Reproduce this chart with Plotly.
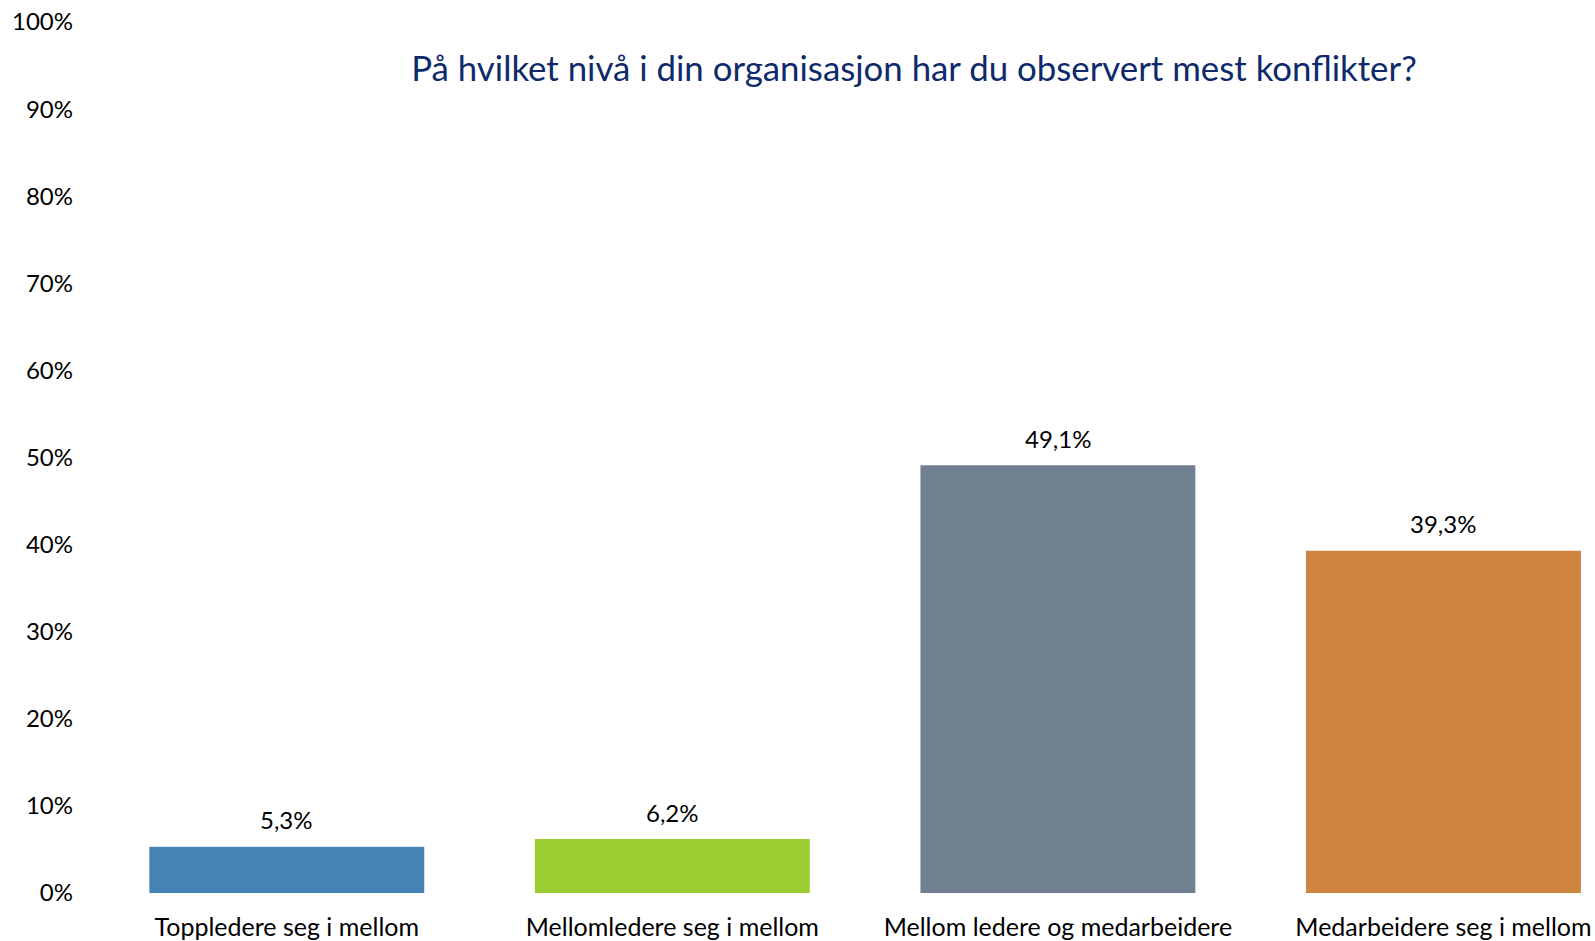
import plotly.graph_objects as go

categories = ["Toppledere seg i mellom", "Mellomledere seg i mellom",
              "Mellom ledere og medarbeidere", "Medarbeidere seg i mellom"]
values = [5.3, 6.2, 49.1, 39.3]
value_labels = ["5,3%", "6,2%", "49,1%", "39,3%"]
colors = ["#4682B4", "#9ACD32", "#708090", "#CD853F"]
tick_vals = [0, 10, 20, 30, 40, 50, 60, 70, 80, 90, 100]
tick_text = [f"{v}%" for v in tick_vals]
title_text = "På hvilket nivå i din organisasjon har du observert mest konflikter?"

FONT = "Lato"

fig = go.Figure()
fig.add_trace(go.Bar(
    x=categories, y=values, marker_color=colors, marker_line_width=0,
    hoverinfo="skip",
))

for c, v, t in zip(categories, values, value_labels):
    fig.add_annotation(x=c, y=v, text=t, showarrow=False, xref="x", yref="y",
                       yanchor="middle", yshift=27,
                       font=dict(family=FONT, size=24, color="#000000"))

fig.update_layout(
    width=1595, height=941,
    margin=dict(l=94, r=0, t=22, b=48, autoexpand=False),
    paper_bgcolor="white", plot_bgcolor="white",
    bargap=0.287,
    showlegend=False,
    title=dict(text=title_text, x=914 / 1595, xanchor="center",
               y=1 - 69 / 941, yanchor="middle", xref="container", yref="container",
               font=dict(family=FONT, size=34.8, color="#0E2A6A")),
    xaxis=dict(range=[-0.5, 3.393], showline=False, showgrid=False, ticks="",
               automargin=False,
               tickfont=dict(family=FONT, size=25, color="#000000"),
               ticklabelstandoff=17),
    yaxis=dict(range=[0, 100], tickvals=tick_vals, ticktext=tick_text,
               showgrid=False, showline=False, zeroline=False, ticks="",
               automargin=False,
               tickfont=dict(family=FONT, size=24, color="#000000"),
               ticklabelstandoff=20),
)

fig.write_html("out.html", config={"displayModeBar": False},
               post_script="document.body.style.margin='0';document.body.style.overflow='hidden';")
